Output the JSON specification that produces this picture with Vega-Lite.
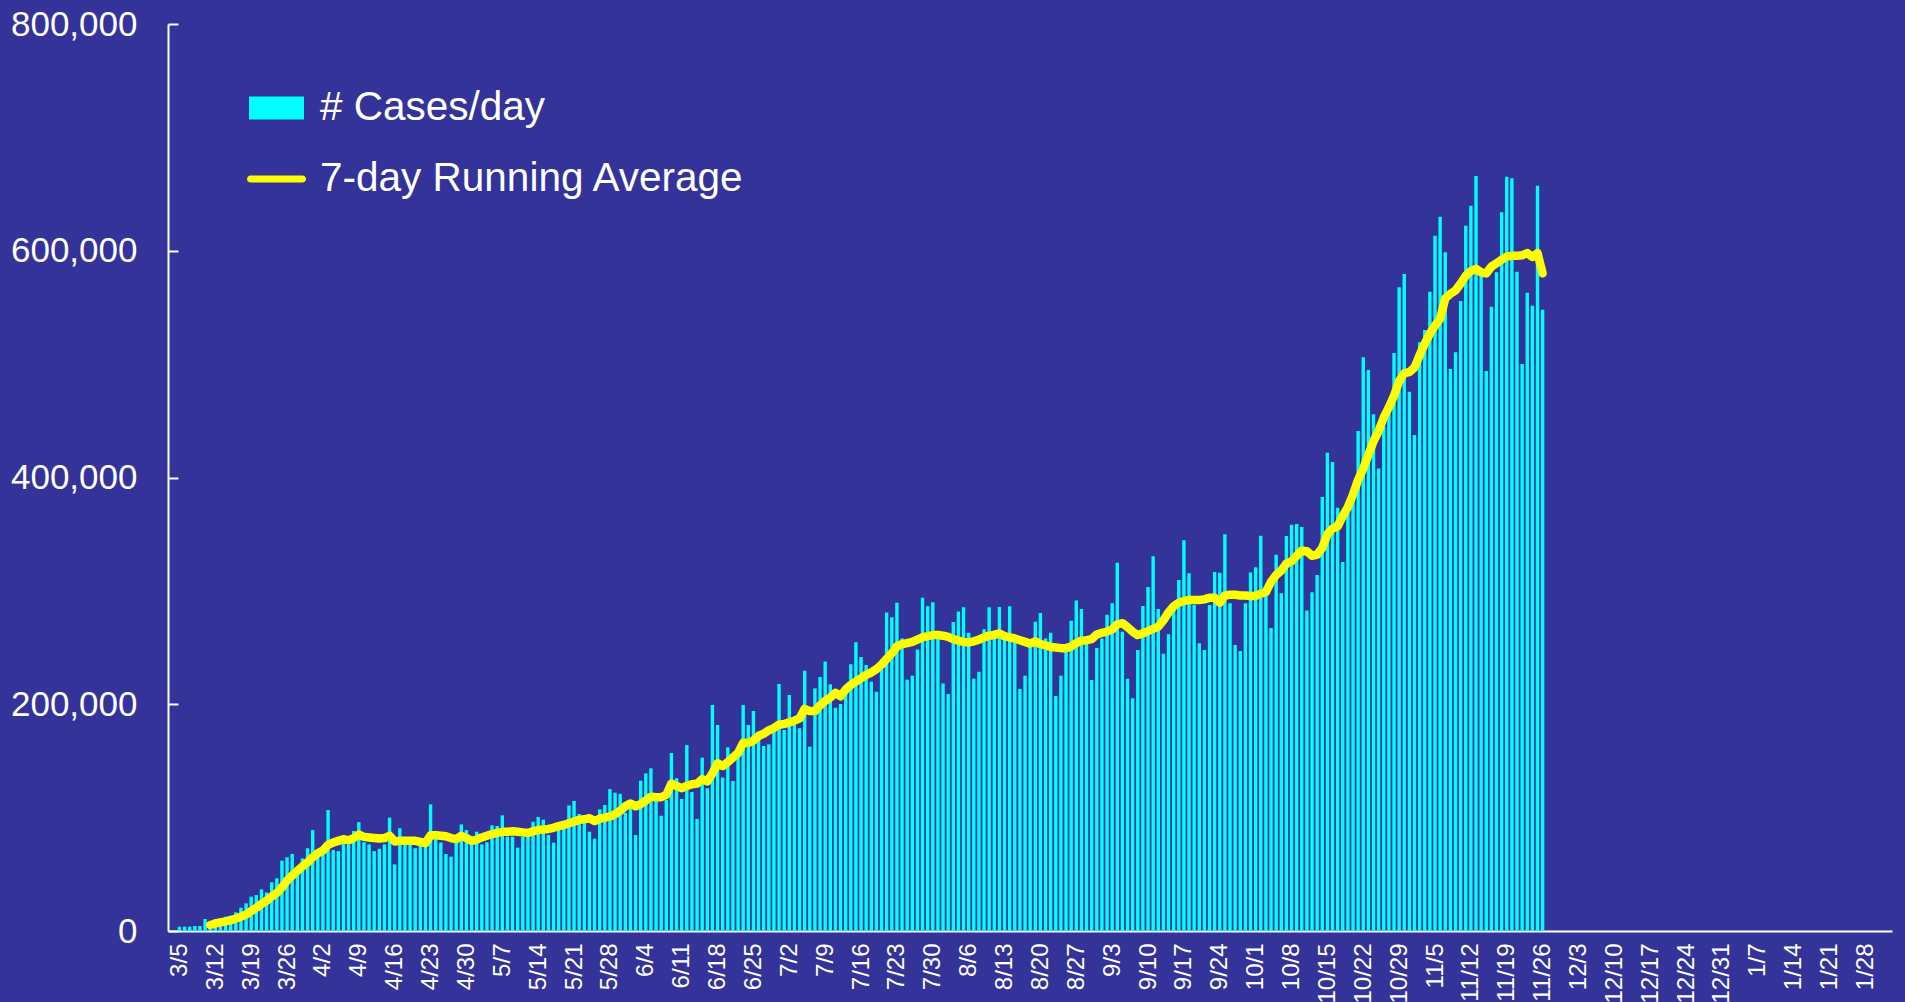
{
"$schema": "https://vega.github.io/schema/vega-lite/v6.json",
"width": 1724,
"height": 907,
"autosize": {"type": "none"},
"padding": {"left": 168, "top": 24, "right": 13, "bottom": 71},
"background": "#333399",
"config": {"view": {"stroke": null}, "font": "Liberation Sans"},
"data": {"values": [
{"d":"2020-03-05","c":3800},{"d":"2020-03-06","c":3800},{"d":"2020-03-07","c":3900},{"d":"2020-03-08","c":4400},{"d":"2020-03-09","c":4400},{"d":"2020-03-10","c":10600},
{"d":"2020-03-11","c":7000,"a":5300},{"d":"2020-03-12","c":10600,"a":6600},{"d":"2020-03-13","c":11000,"a":7600},{"d":"2020-03-14","c":12600,"a":8400},{"d":"2020-03-15","c":13500,"a":9500},{"d":"2020-03-16","c":16500,"a":10900},{"d":"2020-03-17","c":20500,"a":12600},{"d":"2020-03-18","c":24400,"a":14600},{"d":"2020-03-19","c":30300,"a":17500},{"d":"2020-03-20","c":31700,"a":20500},{"d":"2020-03-21","c":36700,"a":23800},{"d":"2020-03-22","c":34000,"a":26800},{"d":"2020-03-23","c":43000,"a":30500},{"d":"2020-03-24","c":46500,"a":33500},{"d":"2020-03-25","c":62000,"a":38500},{"d":"2020-03-26","c":65000,"a":44500},{"d":"2020-03-27","c":68000,"a":49000},{"d":"2020-03-28","c":51700,"a":53000},{"d":"2020-03-29","c":64000,"a":57000},{"d":"2020-03-30","c":73000,"a":60500},{"d":"2020-03-31","c":89000,"a":65000},
{"d":"2020-04-01","c":65500,"a":68500},{"d":"2020-04-02","c":75000,"a":71000},{"d":"2020-04-03","c":106700,"a":76000},{"d":"2020-04-04","c":71400,"a":78000},{"d":"2020-04-05","c":70500,"a":79500},{"d":"2020-04-06","c":83800,"a":81000},{"d":"2020-04-07","c":76400,"a":80000},{"d":"2020-04-08","c":88200,"a":82000},{"d":"2020-04-09","c":96000,"a":85000},{"d":"2020-04-10","c":78400,"a":83000},{"d":"2020-04-11","c":76400,"a":82500},{"d":"2020-04-12","c":70500,"a":82000},{"d":"2020-04-13","c":72500,"a":81500},{"d":"2020-04-14","c":76400,"a":82000},{"d":"2020-04-15","c":100000,"a":84000},{"d":"2020-04-16","c":58800,"a":79000},{"d":"2020-04-17","c":90600,"a":79500},{"d":"2020-04-18","c":76000,"a":79500},{"d":"2020-04-19","c":76000,"a":79500},{"d":"2020-04-20","c":73000,"a":79500},{"d":"2020-04-21","c":75500,"a":78500},{"d":"2020-04-22","c":76000,"a":77500},{"d":"2020-04-23","c":111700,"a":84500},{"d":"2020-04-24","c":82000,"a":84500},{"d":"2020-04-25","c":78000,"a":84000},{"d":"2020-04-26","c":67900,"a":83500},{"d":"2020-04-27","c":65600,"a":82000},{"d":"2020-04-28","c":77900,"a":81000},{"d":"2020-04-29","c":94000,"a":84000},{"d":"2020-04-30","c":89000,"a":82000},
{"d":"2020-05-01","c":76700,"a":79500},{"d":"2020-05-02","c":87600,"a":80500},{"d":"2020-05-03","c":76400,"a":82500},{"d":"2020-05-04","c":78200,"a":84000},{"d":"2020-05-05","c":93200,"a":85500},{"d":"2020-05-06","c":92600,"a":86500},{"d":"2020-05-07","c":102000,"a":87500},{"d":"2020-05-08","c":83200,"a":87500},{"d":"2020-05-09","c":83200,"a":88000},{"d":"2020-05-10","c":73500,"a":87500},{"d":"2020-05-11","c":83200,"a":87000},{"d":"2020-05-12","c":83200,"a":86500},{"d":"2020-05-13","c":96400,"a":88000},{"d":"2020-05-14","c":100500,"a":89000},{"d":"2020-05-15","c":98200,"a":89500},{"d":"2020-05-16","c":84700,"a":90000},{"d":"2020-05-17","c":77900,"a":91000},{"d":"2020-05-18","c":95000,"a":92500},{"d":"2020-05-19","c":95000,"a":93500},{"d":"2020-05-20","c":110800,"a":95000},{"d":"2020-05-21","c":114700,"a":96500},{"d":"2020-05-22","c":103200,"a":98000},{"d":"2020-05-23","c":99400,"a":98500},{"d":"2020-05-24","c":87600,"a":99500},{"d":"2020-05-25","c":81400,"a":97000},{"d":"2020-05-26","c":107300,"a":99000},{"d":"2020-05-27","c":111100,"a":100000},{"d":"2020-05-28","c":125200,"a":101000},{"d":"2020-05-29","c":122000,"a":103000},{"d":"2020-05-30","c":121000,"a":106000},{"d":"2020-05-31","c":104400,"a":110000},
{"d":"2020-06-01","c":109700,"a":112500},{"d":"2020-06-02","c":84700,"a":110000},{"d":"2020-06-03","c":132600,"a":112000},{"d":"2020-06-04","c":139000,"a":115000},{"d":"2020-06-05","c":143500,"a":118500},{"d":"2020-06-06","c":115500,"a":118000},{"d":"2020-06-07","c":101700,"a":118000},{"d":"2020-06-08","c":115500,"a":120000},{"d":"2020-06-09","c":157000,"a":130000},{"d":"2020-06-10","c":134700,"a":128000},{"d":"2020-06-11","c":116400,"a":126000},{"d":"2020-06-12","c":164000,"a":128000},{"d":"2020-06-13","c":122600,"a":129500},{"d":"2020-06-14","c":98800,"a":130000},{"d":"2020-06-15","c":152900,"a":134000},{"d":"2020-06-16","c":125800,"a":132000},{"d":"2020-06-17","c":199300,"a":139000},{"d":"2020-06-18","c":181700,"a":148000},{"d":"2020-06-19","c":135500,"a":145500},{"d":"2020-06-20","c":162000,"a":149000},{"d":"2020-06-21","c":132300,"a":153000},{"d":"2020-06-22","c":156700,"a":157000},{"d":"2020-06-23","c":199300,"a":166000},{"d":"2020-06-24","c":181700,"a":166000},{"d":"2020-06-25","c":194000,"a":168000},{"d":"2020-06-26","c":175800,"a":172000},{"d":"2020-06-27","c":163200,"a":174000},{"d":"2020-06-28","c":164600,"a":177000},{"d":"2020-06-29","c":175800,"a":179000},{"d":"2020-06-30","c":217900,"a":182000},
{"d":"2020-07-01","c":177300,"a":182500},{"d":"2020-07-02","c":208200,"a":184000},{"d":"2020-07-03","c":181700,"a":185500},{"d":"2020-07-04","c":178800,"a":187500},{"d":"2020-07-05","c":229600,"a":196000},{"d":"2020-07-06","c":162600,"a":194000},{"d":"2020-07-07","c":214000,"a":194000},{"d":"2020-07-08","c":224000,"a":199000},{"d":"2020-07-09","c":237600,"a":203000},{"d":"2020-07-10","c":217600,"a":206000},{"d":"2020-07-11","c":197000,"a":210000},{"d":"2020-07-12","c":200200,"a":207000},{"d":"2020-07-13","c":214000,"a":213000},{"d":"2020-07-14","c":235200,"a":217000},{"d":"2020-07-15","c":254600,"a":220000},{"d":"2020-07-16","c":241700,"a":223000},{"d":"2020-07-17","c":234600,"a":226000},{"d":"2020-07-18","c":219900,"a":228000},{"d":"2020-07-19","c":211100,"a":231000},{"d":"2020-07-20","c":231700,"a":235000},{"d":"2020-07-21","c":281000,"a":240000},{"d":"2020-07-22","c":276700,"a":245000},{"d":"2020-07-23","c":289600,"a":251000},{"d":"2020-07-24","c":258100,"a":253000},{"d":"2020-07-25","c":221700,"a":254000},{"d":"2020-07-26","c":225200,"a":255000},{"d":"2020-07-27","c":248400,"a":257000},{"d":"2020-07-28","c":294000,"a":259000},{"d":"2020-07-29","c":286400,"a":260000},{"d":"2020-07-30","c":289900,"a":261000},{"d":"2020-07-31","c":261000,"a":261000},
{"d":"2020-08-01","c":218400,"a":260500},{"d":"2020-08-02","c":209000,"a":259500},{"d":"2020-08-03","c":272500,"a":257500},{"d":"2020-08-04","c":281700,"a":256000},{"d":"2020-08-05","c":285500,"a":255000},{"d":"2020-08-06","c":263100,"a":254500},{"d":"2020-08-07","c":222600,"a":255500},{"d":"2020-08-08","c":228700,"a":257000},{"d":"2020-08-09","c":266100,"a":259000},{"d":"2020-08-10","c":285500,"a":260500},{"d":"2020-08-11","c":265000,"a":261000},{"d":"2020-08-12","c":285800,"a":262500},{"d":"2020-08-13","c":262000,"a":260000},{"d":"2020-08-14","c":286400,"a":259000},{"d":"2020-08-15","c":255200,"a":258000},{"d":"2020-08-16","c":213400,"a":256500},{"d":"2020-08-17","c":225200,"a":255000},{"d":"2020-08-18","c":250800,"a":253500},{"d":"2020-08-19","c":272800,"a":255500},{"d":"2020-08-20","c":280500,"a":253000},{"d":"2020-08-21","c":258100,"a":252000},{"d":"2020-08-22","c":263100,"a":250500},{"d":"2020-08-23","c":207300,"a":250000},{"d":"2020-08-24","c":225200,"a":249500},{"d":"2020-08-25","c":246400,"a":249500},{"d":"2020-08-26","c":273700,"a":251000},{"d":"2020-08-27","c":291600,"a":254000},{"d":"2020-08-28","c":284000,"a":256000},{"d":"2020-08-29","c":253700,"a":256500},{"d":"2020-08-30","c":221400,"a":257500},{"d":"2020-08-31","c":249600,"a":261500},
{"d":"2020-09-01","c":258100,"a":263000},{"d":"2020-09-02","c":279000,"a":264000},{"d":"2020-09-03","c":289000,"a":266000},{"d":"2020-09-04","c":324900,"a":270500},{"d":"2020-09-05","c":264000,"a":271500},{"d":"2020-09-06","c":222600,"a":268000},{"d":"2020-09-07","c":205200,"a":264000},{"d":"2020-09-08","c":247800,"a":261000},{"d":"2020-09-09","c":286700,"a":262500},{"d":"2020-09-10","c":303400,"a":264500},{"d":"2020-09-11","c":330500,"a":266500},{"d":"2020-09-12","c":284000,"a":268500},{"d":"2020-09-13","c":244600,"a":274000},{"d":"2020-09-14","c":261700,"a":281000},{"d":"2020-09-15","c":287500,"a":286500},{"d":"2020-09-16","c":309600,"a":289500},{"d":"2020-09-17","c":344600,"a":291000},{"d":"2020-09-18","c":315500,"a":292000},{"d":"2020-09-19","c":287500,"a":292000},{"d":"2020-09-20","c":253700,"a":292000},{"d":"2020-09-21","c":247800,"a":292500},{"d":"2020-09-22","c":287500,"a":294000},{"d":"2020-09-23","c":316600,"a":294000},{"d":"2020-09-24","c":316000,"a":289500},{"d":"2020-09-25","c":349900,"a":296000},{"d":"2020-09-26","c":289000,"a":296500},{"d":"2020-09-27","c":252300,"a":296500},{"d":"2020-09-28","c":247000,"a":296000},{"d":"2020-09-29","c":289000,"a":296000},{"d":"2020-09-30","c":316300,"a":295500},
{"d":"2020-10-01","c":320800,"a":295500},{"d":"2020-10-02","c":348700,"a":297500},{"d":"2020-10-03","c":303700,"a":299000},{"d":"2020-10-04","c":267200,"a":308000},{"d":"2020-10-05","c":331900,"a":314000},{"d":"2020-10-06","c":298000,"a":318000},{"d":"2020-10-07","c":348400,"a":324000},{"d":"2020-10-08","c":358400,"a":326000},{"d":"2020-10-09","c":359000,"a":331000},{"d":"2020-10-10","c":356300,"a":335500},{"d":"2020-10-11","c":282800,"a":335000},{"d":"2020-10-12","c":298700,"a":331000},{"d":"2020-10-13","c":314000,"a":332000},{"d":"2020-10-14","c":382800,"a":338000},{"d":"2020-10-15","c":421900,"a":350000},{"d":"2020-10-16","c":413700,"a":355000},{"d":"2020-10-17","c":373400,"a":357000},{"d":"2020-10-18","c":325500,"a":366000},{"d":"2020-10-19","c":370000,"a":374000},{"d":"2020-10-20","c":389000,"a":385000},{"d":"2020-10-21","c":441000,"a":398000},{"d":"2020-10-22","c":506000,"a":408000},{"d":"2020-10-23","c":494800,"a":420000},{"d":"2020-10-24","c":455700,"a":432000},{"d":"2020-10-25","c":408000,"a":441000},{"d":"2020-10-26","c":445000,"a":453000},{"d":"2020-10-27","c":468000,"a":462000},{"d":"2020-10-28","c":509800,"a":472000},{"d":"2020-10-29","c":567700,"a":485000},{"d":"2020-10-30","c":579500,"a":492000},{"d":"2020-10-31","c":475700,"a":493000},
{"d":"2020-11-01","c":437500,"a":497000},{"d":"2020-11-02","c":519200,"a":508000},{"d":"2020-11-03","c":530000,"a":518000},{"d":"2020-11-04","c":563900,"a":527000},{"d":"2020-11-05","c":613300,"a":534000},{"d":"2020-11-06","c":630000,"a":540000},{"d":"2020-11-07","c":598600,"a":558000},{"d":"2020-11-08","c":495700,"a":562000},{"d":"2020-11-09","c":510400,"a":565000},{"d":"2020-11-10","c":555700,"a":571000},{"d":"2020-11-11","c":622100,"a":578000},{"d":"2020-11-12","c":639700,"a":582000},{"d":"2020-11-13","c":665900,"a":584000},{"d":"2020-11-14","c":578600,"a":581000},{"d":"2020-11-15","c":493900,"a":580000},{"d":"2020-11-16","c":550700,"a":586000},{"d":"2020-11-17","c":581000,"a":589000},{"d":"2020-11-18","c":633900,"a":592000},{"d":"2020-11-19","c":665300,"a":595000},{"d":"2020-11-20","c":663900,"a":595500},{"d":"2020-11-21","c":581500,"a":595500},{"d":"2020-11-22","c":500100,"a":596000},{"d":"2020-11-23","c":563000,"a":598000},{"d":"2020-11-24","c":551500,"a":594500},{"d":"2020-11-25","c":657400,"a":598000},{"d":"2020-11-26","c":548000,"a":580000}
]},
"layer": [
{
"mark": {"type": "bar", "width": 3.4},
"encoding": {
"x": {"field": "d", "type": "temporal",
"scale": {"type": "utc", "domain": [{"year": 2020, "month": 3, "date": 3, "hours": 17, "minutes": 45, "utc": true}, {"year": 2021, "month": 2, "date": 1, "hours": 4, "minutes": 45, "utc": true}]},
"axis": {"title": null, "grid": false, "ticks": false, "tickCount": 200, "format": "%-m/%-d", "labelAngle": -90, "labelFontSize": 24, "labelColor": "white", "labelFont": "Liberation Sans", "labelPadding": 12, "labelOverlap": false, "labelFlush": false, "labelBound": false, "domainColor": "white", "domainWidth": 2,
"values": [
{"year":2020,"month":3,"date":5,"utc":true},{"year":2020,"month":3,"date":12,"utc":true},{"year":2020,"month":3,"date":19,"utc":true},{"year":2020,"month":3,"date":26,"utc":true},
{"year":2020,"month":4,"date":2,"utc":true},{"year":2020,"month":4,"date":9,"utc":true},{"year":2020,"month":4,"date":16,"utc":true},{"year":2020,"month":4,"date":23,"utc":true},{"year":2020,"month":4,"date":30,"utc":true},
{"year":2020,"month":5,"date":7,"utc":true},{"year":2020,"month":5,"date":14,"utc":true},{"year":2020,"month":5,"date":21,"utc":true},{"year":2020,"month":5,"date":28,"utc":true},
{"year":2020,"month":6,"date":4,"utc":true},{"year":2020,"month":6,"date":11,"utc":true},{"year":2020,"month":6,"date":18,"utc":true},{"year":2020,"month":6,"date":25,"utc":true},
{"year":2020,"month":7,"date":2,"utc":true},{"year":2020,"month":7,"date":9,"utc":true},{"year":2020,"month":7,"date":16,"utc":true},{"year":2020,"month":7,"date":23,"utc":true},{"year":2020,"month":7,"date":30,"utc":true},
{"year":2020,"month":8,"date":6,"utc":true},{"year":2020,"month":8,"date":13,"utc":true},{"year":2020,"month":8,"date":20,"utc":true},{"year":2020,"month":8,"date":27,"utc":true},
{"year":2020,"month":9,"date":3,"utc":true},{"year":2020,"month":9,"date":10,"utc":true},{"year":2020,"month":9,"date":17,"utc":true},{"year":2020,"month":9,"date":24,"utc":true},
{"year":2020,"month":10,"date":1,"utc":true},{"year":2020,"month":10,"date":8,"utc":true},{"year":2020,"month":10,"date":15,"utc":true},{"year":2020,"month":10,"date":22,"utc":true},{"year":2020,"month":10,"date":29,"utc":true},
{"year":2020,"month":11,"date":5,"utc":true},{"year":2020,"month":11,"date":12,"utc":true},{"year":2020,"month":11,"date":19,"utc":true},{"year":2020,"month":11,"date":26,"utc":true},
{"year":2020,"month":12,"date":3,"utc":true},{"year":2020,"month":12,"date":10,"utc":true},{"year":2020,"month":12,"date":17,"utc":true},{"year":2020,"month":12,"date":24,"utc":true},{"year":2020,"month":12,"date":31,"utc":true},
{"year":2021,"month":1,"date":7,"utc":true},{"year":2021,"month":1,"date":14,"utc":true},{"year":2021,"month":1,"date":21,"utc":true},{"year":2021,"month":1,"date":28,"utc":true}
]}},
"y": {"field": "c", "type": "quantitative",
"scale": {"domain": [0, 800000], "nice": false},
"axis": {"title": null, "grid": false, "ticks": true, "tickSize": -10, "tickColor": "white", "tickWidth": 2, "values": [0, 200000, 400000, 600000, 800000], "format": ",d", "labelFontSize": 35, "labelColor": "white", "labelFont": "Liberation Sans", "labelPadding": 41, "domainColor": "white", "domainWidth": 2}},
"fill": {"datum": "# Cases/day", "type": "nominal",
"scale": {"range": ["#00ffff"]},
"legend": {"title": null, "orient": "none", "legendX": 81, "legendY": 56.5, "padding": 0, "labelFontSize": 40.5, "labelLimit": 800, "labelColor": "white", "labelFont": "Liberation Sans", "labelOffset": 16, "symbolType": "M-1,-0.42H1V0.42H-1Z", "symbolSize": 3025, "symbolStrokeWidth": 0, "symbolOpacity": 1}}
}
},
{
"transform": [{"filter": "isValid(datum.a)"}],
"mark": {"type": "line", "strokeWidth": 8.5, "strokeCap": "round", "strokeJoin": "round"},
"encoding": {
"x": {"field": "d", "type": "temporal"},
"y": {"field": "a", "type": "quantitative"},
"stroke": {"datum": "7-day Running Average", "type": "nominal",
"scale": {"range": ["#ffff00"]},
"legend": {"title": null, "orient": "none", "legendX": 79, "legendY": 125.5, "padding": 0, "labelFontSize": 40.5, "labelLimit": 800, "labelColor": "white", "labelFont": "Liberation Sans", "labelOffset": 14, "symbolType": "M-0.88,-0.12H0.88A0.12,0.12,0,0,1,0.88,0.12H-0.88A0.12,0.12,0,0,1,-0.88,-0.12Z", "symbolSize": 3481, "symbolStrokeWidth": 0, "symbolFillColor": "#ffff00", "symbolOpacity": 1,
"encode": {"symbols": {"update": {"fill": {"value": "#ffff00"}, "strokeWidth": {"value": 0}}}}}}
}
}
]
}
